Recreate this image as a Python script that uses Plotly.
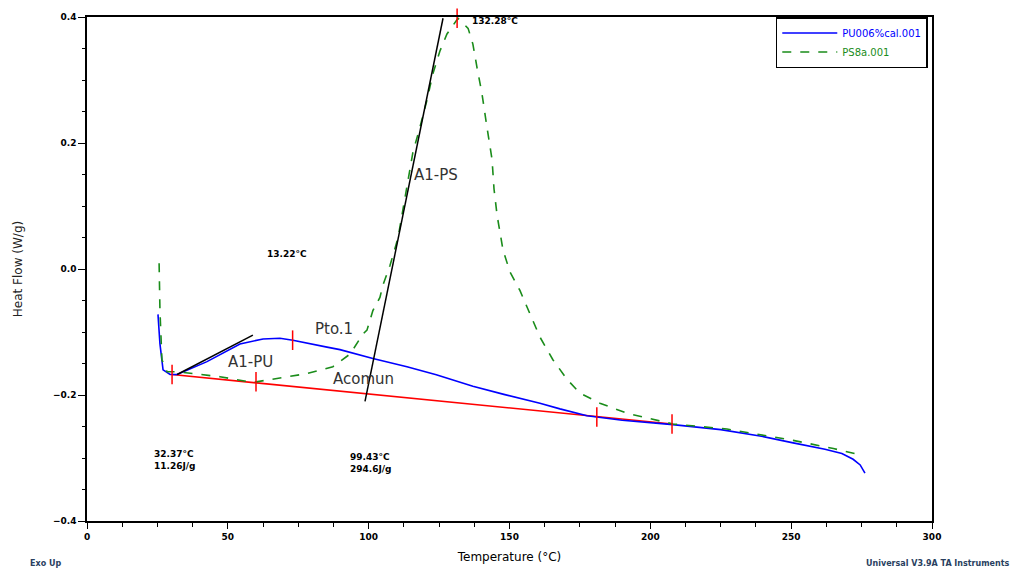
import plotly.graph_objects as go

# ---- data ----
pu_temp = [25.2, 25.9, 27.0, 29.5, 32.0, 42.6, 54.3, 62.5, 68.5, 73.1, 85.2, 89.8, 101.5, 113.6,
           124.0, 132.4, 137.0, 148.0, 160.8, 167.9, 177.5, 190.0, 208.0, 225.0, 238.9, 250.7, 262.0,
           268.0, 272.0, 274.5, 276.2]
pu_heat = [-0.072, -0.119, -0.160, -0.1675, -0.1675, -0.147, -0.119, -0.111, -0.110, -0.113, -0.124, -0.128,
           -0.142, -0.155, -0.168, -0.179, -0.186, -0.199, -0.213, -0.222, -0.233, -0.240, -0.247, -0.255,
           -0.265, -0.276, -0.286, -0.293, -0.302, -0.311, -0.324]

ps_temp = [25.6, 25.9, 26.6, 28.4, 32.0, 47.2, 58.9, 66.0, 78.1, 87.3, 90.9, 93.4, 98.0, 99.4, 101.5,
           104.0, 105.1, 107.6, 110.4, 112.9, 114.0, 115.7, 118.2, 120.7, 122.8, 125.3, 127.8, 131.7,
           135.3, 137.0, 138.5, 140.2, 142.0, 143.8, 144.5, 145.6, 147.7, 150.2, 153.7, 157.3, 160.8,
           165.4, 170.4, 175.0, 182.1, 191.7, 208.0, 227.2, 250.7, 265.0, 275.5]
ps_heat = [0.009, -0.066, -0.144, -0.163, -0.163, -0.171, -0.180, -0.175, -0.166, -0.155, -0.144, -0.135,
           -0.103, -0.097, -0.066, -0.045, -0.025, 0.006, 0.049, 0.111, 0.142, 0.185, 0.225, 0.268, 0.310,
           0.346, 0.373, 0.398, 0.382, 0.357, 0.319, 0.279, 0.225, 0.174, 0.127, 0.085, 0.030, -0.005,
           -0.034, -0.072, -0.108, -0.144, -0.175, -0.197, -0.213, -0.229, -0.246, -0.254, -0.272, -0.285, -0.296]

baseline_temp = [30.2, 207.7]
baseline_heat = [-0.1675, -0.246]

tick_temp = [30.2, 60.0, 73.0, 131.4, 181.0, 207.7]
tick_heat = [-0.1675, -0.179, -0.113, 0.398, -0.235, -0.246]

tangent_pu_temp = [32.0, 58.9]
tangent_pu_heat = [-0.1675, -0.105]
tangent_ps_temp = [98.7, 126.4]
tangent_ps_heat = [-0.210, 0.398]

x_ticks = [0, 50, 100, 150, 200, 250, 300]
y_ticks = [-0.4, -0.2, 0.0, 0.2, 0.4]

fig = go.Figure()

fig.add_trace(go.Scatter(x=baseline_temp, y=baseline_heat, mode="lines",
                         line=dict(color="#ff0000", width=1.6), showlegend=False, hoverinfo="skip"))
fig.add_trace(go.Scatter(x=pu_temp, y=pu_heat, mode="lines",
                         line=dict(color="#0000ff", width=1.6),
                         name="<span style='color:#0000ff'>PU006%cal.001</span>"))
fig.add_trace(go.Scatter(x=ps_temp, y=ps_heat, mode="lines",
                         line=dict(color="#1a8c1a", width=1.6, dash="dash"),
                         name="<span style='color:#1a8c1a'>PS8a.001</span>"))
fig.add_trace(go.Scatter(x=tangent_pu_temp, y=tangent_pu_heat, mode="lines",
                         line=dict(color="black", width=1.5), showlegend=False))
fig.add_trace(go.Scatter(x=tangent_ps_temp, y=tangent_ps_heat, mode="lines",
                         line=dict(color="black", width=1.5), showlegend=False))
fig.add_trace(go.Scatter(x=tick_temp, y=tick_heat, mode="markers",
                         marker=dict(symbol="line-ns", size=14, line=dict(color="#ff0000", width=1.5)),
                         showlegend=False, cliponaxis=False))

small = dict(family="DejaVu Sans", size=9, color="black", weight="bold")
big = dict(family="DejaVu Sans", size=15, color="#333333")

annots = [
    (136.0, 0.393, "132.28°C", small),
    (63.2, 0.0235, "13.22°C", small),
    (23.1, -0.303, "32.37°C<br>11.26J/g", small),
    (92.7, -0.308, "99.43°C<br>294.6J/g", small),
    (115.4, 0.149, "A1-PS", big),
    (80.2, -0.0955, "Pto.1", big),
    (49.3, -0.147, "A1-PU", big),
    (86.6, -0.174, "Acomun", big),
]
for x, y, t, f in annots:
    fig.add_annotation(x=x, y=y, text=t, showarrow=False, xanchor="left", yanchor="middle",
                       font=f, align="left")

fig.add_annotation(xref="paper", yref="paper", x=-0.07, y=-0.085, text="Exo Up", showarrow=False,
                   xanchor="left", yanchor="middle", font=dict(family="DejaVu Sans", size=8, weight="bold"))
fig.add_annotation(xref="paper", yref="paper", x=1.095, y=-0.085, text="Universal V3.9A TA Instruments",
                   showarrow=False, xanchor="right", yanchor="middle",
                   font=dict(family="DejaVu Sans", size=8, weight="bold"))

fig.update_layout(
    width=1020, height=574,
    margin=dict(l=87, r=88, t=15, b=48),
    plot_bgcolor="white", paper_bgcolor="white",
    legend=dict(x=0.995, y=1, xanchor="right", yanchor="top", bgcolor="white",
                bordercolor="black", borderwidth=1.5, font=dict(family="DejaVu Sans", size=10),
                tracegroupgap=0, itemwidth=55),
    xaxis=dict(range=[0, 300], tickvals=x_ticks, ticks="outside", ticklen=6, tickwidth=1,
               tickcolor="black", showgrid=False, zeroline=False, showline=True, linecolor="black",
               linewidth=1.5, mirror=True,
               minor=dict(dtick=12.5, ticks="outside", ticklen=4, tickcolor="black"),
               tickfont=dict(family="DejaVu Sans", size=9, weight="bold", color="black"),
               title=dict(text="Temperature (°C)", font=dict(family="DejaVu Sans", size=12, color="black"),
                          standoff=12)),
    yaxis=dict(range=[-0.4, 0.4], tickvals=y_ticks, tickformat=".1f", ticks="outside", ticklen=7,
               tickwidth=1, tickcolor="black", showgrid=False, zeroline=False, showline=True,
               linecolor="black", linewidth=1.5, mirror=True,
               minor=dict(dtick=0.05, ticks="outside", ticklen=3, tickcolor="black"),
               tickfont=dict(family="DejaVu Sans", size=9, weight="bold", color="black"),
               title=dict(text="Heat Flow (W/g)", font=dict(family="DejaVu Sans", size=12, color="#222222"),
                          standoff=28)),
)

fig.write_html("out.html")
